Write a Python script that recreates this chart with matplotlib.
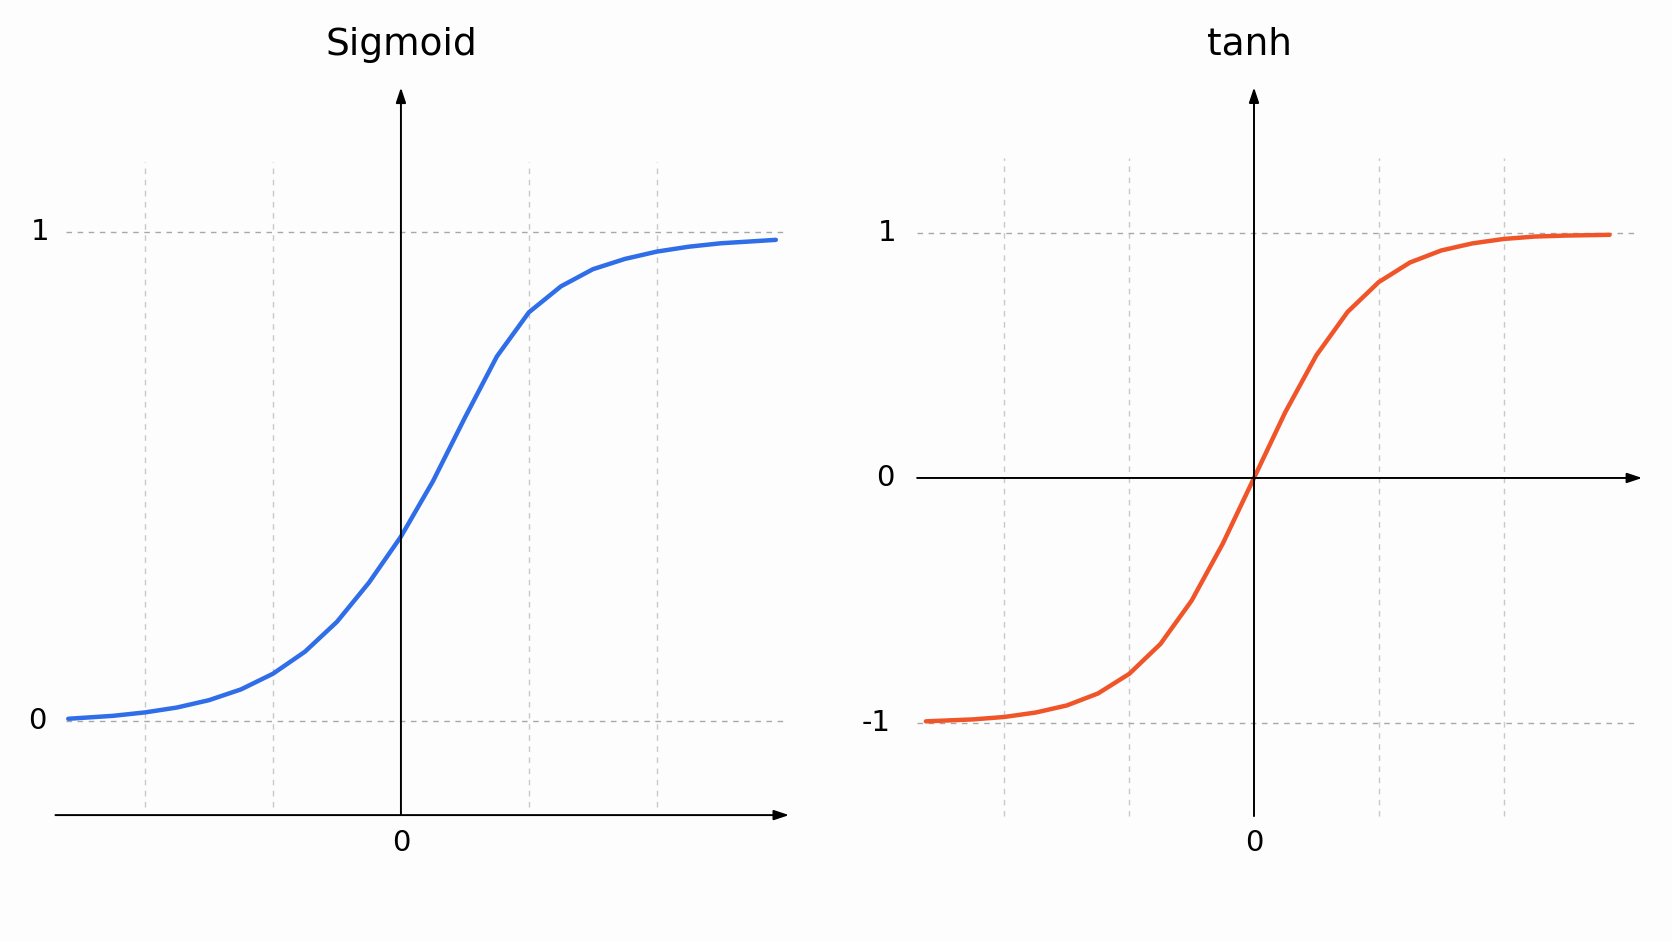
import matplotlib
matplotlib.use("Agg")
import matplotlib.pyplot as plt

sig_x = [-2.6, -2.25, -2.0, -1.75, -1.5, -1.25, -1.0, -0.75, -0.5, -0.25, 0.0, 0.25, 0.5,
         0.75, 1.0, 1.25, 1.5, 1.75, 2.0, 2.25, 2.5, 2.75, 2.93]
sig_y = [0.005, 0.011, 0.018, 0.028, 0.043, 0.065, 0.097, 0.142, 0.203, 0.283, 0.377, 0.49, 0.62,
         0.745, 0.835, 0.888, 0.923, 0.944, 0.959, 0.969, 0.976, 0.980, 0.983]
tanh_x = [-2.63, -2.25, -2.0, -1.75, -1.5, -1.25, -1.0, -0.75, -0.5, -0.25, 0.0,
          0.25, 0.5, 0.75, 1.0, 1.25, 1.5, 1.75, 2.0, 2.25, 2.5, 2.85]
tanh_y = [-0.994, -0.986, -0.976, -0.958, -0.929, -0.880, -0.800, -0.678, -0.501, -0.268, 0.0,
          0.268, 0.501, 0.678, 0.800, 0.880, 0.929, 0.958, 0.976, 0.986, 0.990, 0.993]
grid_x = [-2, -1, 1, 2]
titles = ["Sigmoid", "tanh"]

fig = plt.figure(figsize=(16.72, 9.41), dpi=100, facecolor="#fdfdfd")
GRID = "#c9c9c9"
HL = "#a8a8a8"
FS = 21

def arrow(ax, x0, y0, x1, y1):
    ax.annotate("", xy=(x1, y1), xytext=(x0, y0),
                arrowprops=dict(arrowstyle="-|>,head_length=0.9,head_width=0.3",
                                color="black", lw=1.4, shrinkA=0, shrinkB=0))

# left panel
ax = fig.add_axes([0, 0, 1, 1])
ax.set_xlim(-376/120, (1568-376)/120)
ax.set_ylim((676-882)/459, 676/459)
ax.axis("off")
for g in grid_x:
    ax.plot([g, g], [-0.176, 1.1416], ls=(0, (4, 4)), color=GRID, lw=1)
for h in [0, 1]:
    ax.plot([-2.617, 3.008], [h, h], ls=(0, (4, 4)), color=HL, lw=1)
arrow(ax, -2.7, -0.1917, 3.033, -0.1917)
arrow(ax, 0, -0.1917, 0, 1.294)
ax.plot(sig_x, sig_y, color="#2f6ee8", lw=3.2, solid_capstyle="round")
ax.text((38-376)/120, 1, "1", fontsize=FS, ha="center", va="center")
ax.text((35-376)/120, 0, "0", fontsize=FS, ha="center", va="center")
ax.text(0, -0.248, "0", fontsize=FS, ha="center", va="center")
ax.text(0, 1.381, titles[0], fontsize=27, ha="center", va="center")

# right panel
ax2 = fig.add_axes([0, 0, 1, 1])
ax2.patch.set_alpha(0)
ax2.set_xlim(-1176/117, (1568-1176)/117)
ax2.set_ylim((448-882)/229.5, 448/229.5)
ax2.axis("off")
for g in grid_x:
    ax2.plot([g, g], [-1.381, 1.307], ls=(0, (4, 4)), color=GRID, lw=1)
for h in [-1, 1]:
    ax2.plot([-2.70, 3.043], [h, h], ls=(0, (4, 4)), color=HL, lw=1)
arrow(ax2, -2.70, 0, 3.111, 0)
arrow(ax2, 0, -1.381, 0, 1.595)
ax2.plot(tanh_x, tanh_y, color="#f0552a", lw=3.2, solid_capstyle="round")
ax2.text((832-1176)/117, 1, "1", fontsize=FS, ha="center", va="center")
ax2.text((830-1176)/117, 0, "0", fontsize=FS, ha="center", va="center")
ax2.text((822-1176)/117, -1, "-1", fontsize=FS, ha="center", va="center")
ax2.text(0, -1.490, "0", fontsize=FS, ha="center", va="center")
ax2.text((1172-1176)/117, 1.769, titles[1], fontsize=27, ha="center", va="center")

fig.savefig("out.png", dpi=100, facecolor=fig.get_facecolor())
